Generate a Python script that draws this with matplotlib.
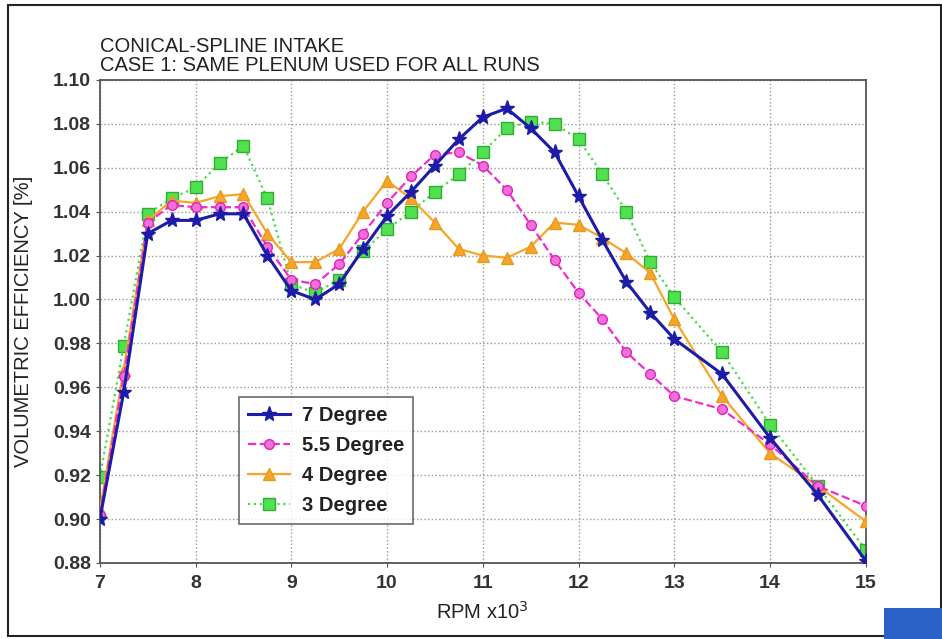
import matplotlib
matplotlib.use('Agg')
from matplotlib import pyplot as plt
from matplotlib.patches import Rectangle

# rpm (x1000) and volumetric efficiency
rpm = [7, 7.25, 7.5, 7.75, 8, 8.25, 8.5, 8.75, 9, 9.25, 9.5, 9.75, 10, 10.25,
       10.5, 10.75, 11, 11.25, 11.5, 11.75, 12, 12.25, 12.5, 12.75, 13, 13.5,
       14, 14.5, 15]

deg7 = [0.900, 0.958, 1.030, 1.036, 1.036, 1.039, 1.039, 1.020, 1.004, 1.000,
        1.007, 1.023, 1.038, 1.049, 1.061, 1.073, 1.083, 1.087, 1.078, 1.067,
        1.047, 1.027, 1.008, 0.994, 0.982, 0.966, 0.937, 0.911, 0.881]
deg55 = [0.902, 0.965, 1.035, 1.043, 1.042, 1.042, 1.042, 1.024, 1.009, 1.007,
         1.016, 1.030, 1.044, 1.056, 1.066, 1.067, 1.061, 1.050, 1.034, 1.018,
         1.003, 0.991, 0.976, 0.966, 0.956, 0.950, 0.934, 0.915, 0.906]
deg4 = [0.904, 0.968, 1.036, 1.045, 1.044, 1.047, 1.048, 1.030, 1.017, 1.017,
        1.023, 1.040, 1.054, 1.046, 1.035, 1.023, 1.020, 1.019, 1.024, 1.035,
        1.034, 1.028, 1.021, 1.012, 0.991, 0.956, 0.930, 0.915, 0.899]
deg3 = [0.919, 0.979, 1.039, 1.046, 1.051, 1.062, 1.070, 1.046, 1.007, 1.003,
        1.009, 1.022, 1.032, 1.040, 1.049, 1.057, 1.067, 1.078, 1.081, 1.080,
        1.073, 1.057, 1.040, 1.017, 1.001, 0.976, 0.943, 0.915, 0.886]

xticks = [7, 8, 9, 10, 11, 12, 13, 14, 15]
yticks = [0.88, 0.90, 0.92, 0.94, 0.96, 0.98, 1.00, 1.02, 1.04, 1.06, 1.08, 1.10]

plt.rcParams['font.family'] = ['Liberation Sans', 'DejaVu Sans']

fig = plt.figure(figsize=(9.42, 6.39), dpi=100)
ax = fig.add_axes([0.106, 0.119, 0.813, 0.756])

ax.plot(rpm, deg7, c='#1c1ca8', lw=2.2, marker='*', ms=11,
        mfc='#1c1ca8', mec='#1c1ca8', label='7 Degree', zorder=5)
ax.plot(rpm, deg55, c='#ee2ccc', lw=1.6, ls='--', marker='o', ms=7,
        mfc='#f070d8', mec='#e020c0', label='5.5 Degree', zorder=4)
ax.plot(rpm, deg4, c='#f5a62a', lw=1.6, marker='^', ms=8,
        mfc='#f5a62a', mec='#e89a20', label='4 Degree', zorder=3)
ax.plot(rpm, deg3, c='#44dd44', lw=1.6, ls=':', marker='s', ms=8,
        mfc='#50e050', mec='#30b030', label='3 Degree', zorder=2)

ax.set_xlim(7, 15)
ax.set_ylim(0.88, 1.10)
ax.set_xticks(xticks)
ax.set_yticks(yticks)
ax.set_yticklabels(['%.2f' % v for v in yticks])
ax.grid(True, ls=':', c='#999999', lw=1)
ax.tick_params(axis='both', labelsize=14, length=3, color='#555555')
ax.tick_params(axis='x', pad=6)
for t in ax.get_xticklabels() + ax.get_yticklabels():
    t.set_fontweight('bold')
    t.set_color('#333333')
for s in ax.spines.values():
    s.set_color('#555555')
    s.set_linewidth(1.3)

ax.set_xlabel('RPM x10$^3$', fontsize=14.5, color='#222222', labelpad=6)
ax.set_ylabel('VOLUMETRIC EFFICIENCY [%]', fontsize=14.5, color='#222222', labelpad=14)

fig.text(0.106, 0.882, 'CONICAL-SPLINE INTAKE\nCASE 1: SAME PLENUM USED FOR ALL RUNS',
         fontsize=14.5, color='#222222', ha='left', va='bottom', linespacing=1.05)

leg = ax.legend(loc='lower left', bbox_to_anchor=(0.168, 0.06), fontsize=14.5,
                frameon=True, fancybox=False, handlelength=2.1,
                borderpad=0.45, labelspacing=0.55, handletextpad=0.6)
leg.get_frame().set_edgecolor('#444444')
leg.get_frame().set_linewidth(1.2)
for t in leg.get_texts():
    t.set_fontweight('bold')
    t.set_color('#222222')

# outer frame of the figure
fig.patches.append(Rectangle((0.009, 0.004), 0.99, 0.988, transform=fig.transFigure,
                             fill=False, ec='#222222', lw=1.5))
# small logo block bottom right
fig.patches.append(Rectangle((0.938, 0.0), 0.062, 0.048, transform=fig.transFigure,
                             fc='#2a62c8', ec='none'))

fig.savefig('out.png', dpi=100)
